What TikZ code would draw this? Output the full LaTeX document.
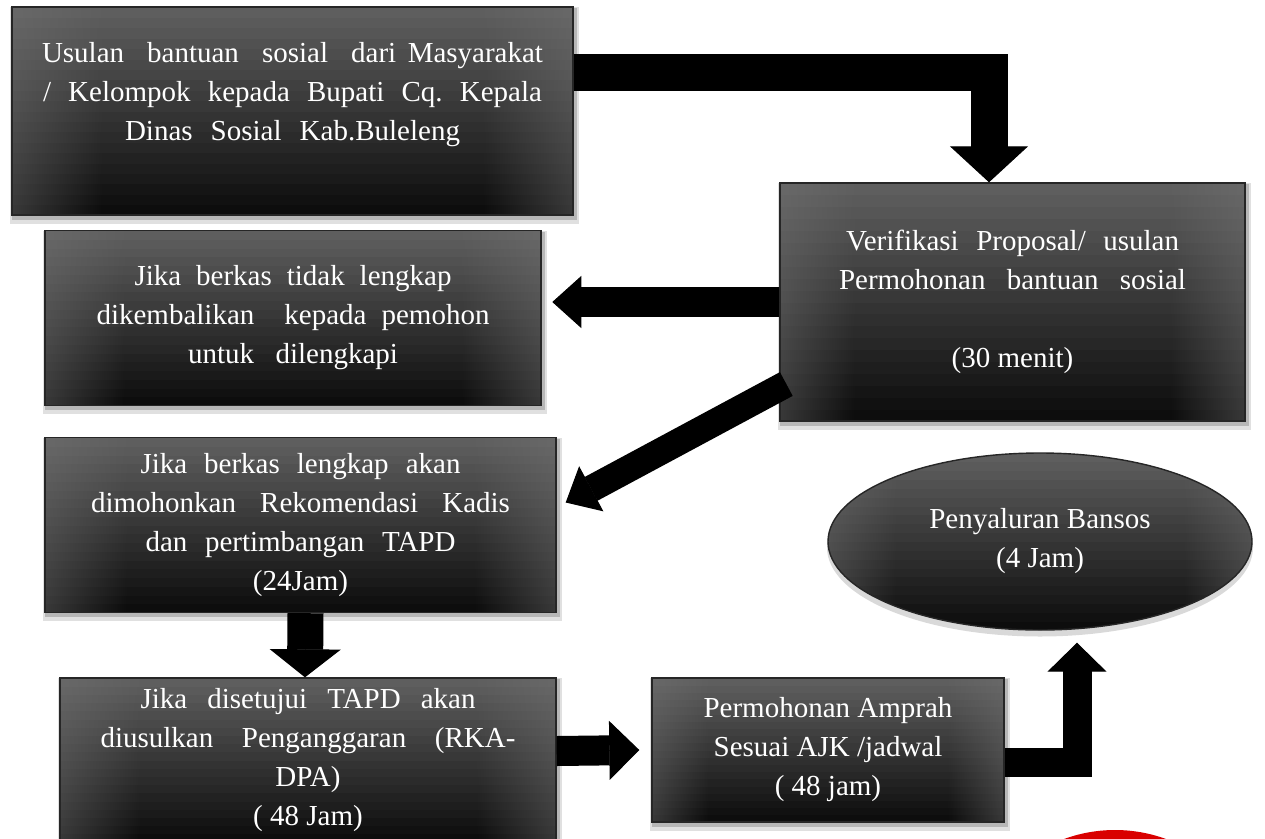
\documentclass[tikz,border=0pt]{standalone}
\usepackage{fontspec}
\setmainfont{Liberation Serif}
\usetikzlibrary{arrows.meta,shapes.geometric,calc}
\pgfdeclarelayer{bg}
\pgfsetlayers{bg,main}
\colorlet{ecol}{black!30}\colorlet{rcol}{black!25}\colorlet{mcol}{black!50}\colorlet{ccol}{black!95}
\pgfdeclarehorizontalshading[ecol,rcol,mcol,ccol]{band}{100bp}{color(0bp)=(ecol); color(13bp)=(mcol); color(33bp)=(ccol); color(67bp)=(ccol); color(87bp)=(mcol); color(100bp)=(rcol)}
\newcommand{\jl}[2]{\makebox[#1pt][s]{#2}}
\tikzset{
  gfill/.style={path picture={
    \foreach \i in {0,...,19}{
      \pgfmathsetmacro\tv{\i/19}
      \pgfmathsetmacro\ev{32+14*\tv}
      \pgfmathsetmacro\rv{27+14*\tv}
      \pgfmathsetmacro\mv{52+2*\tv}
      \pgfmathsetmacro\cv{95-32*\tv}
      \colorlet{ecol}{black!\ev}\colorlet{rcol}{black!\rv}\colorlet{mcol}{black!\mv}\colorlet{ccol}{black!\cv}
      \shade[shading=band] ($(path picture bounding box.south west)!\i/20!(path picture bounding box.north west)$) rectangle ($(path picture bounding box.south east)!\i/20+0.07!(path picture bounding box.north east)$);
    }}},
  gbox/.style={draw=black!85, line width=1.4pt, gfill, text=white, align=center, inner sep=0pt, font=\fontsize{29}{39}\selectfont\frenchspacing},
  rbox/.style={gbox, rectangle},
  ebox/.style={gbox, ellipse},
  blk/.style={draw=black, line cap=butt, line join=miter},
  bar/.style={preaction={draw=black, -, shorten >=#1}},
}
\begin{document}
\begin{tikzpicture}[x=1pt,y=-1pt]
\useasboundingbox (0,0) rectangle (1265,838);
\clip (0,0) rectangle (1265,838);
\begin{pgfonlayer}{bg}
\fill[white] (0,0) rectangle (1265,838);
\end{pgfonlayer}

\node[rbox, minimum width=561pt, minimum height=208pt] (b1) at (292.5,111)
  {\jl{501}{Usulan\ \ bantuan\ \ sosial\ \ dari Masyarakat}\\ \jl{499}{/ Kelompok kepada Bupati Cq. Kepala}\\ \jl{335}{Dinas Sosial Kab.Buleleng}\\ \mbox{}};
\node[rbox, minimum width=465pt, minimum height=238pt] (verif) at (1012.5,302)
  {\jl{333}{Verifikasi Proposal/ usulan}\\ \jl{347}{Permohonan bantuan sosial}\\ \mbox{}\\ (30 menit)};
\node[rbox, minimum width=496pt, minimum height=175pt] (tidak) at (293,318)
  {\jl{317}{Jika berkas tidak lengkap}\\ \jl{393}{dikembalikan\ \ kepada pemohon}\\ \jl{210}{untuk dilengkapi}};
\node[rbox, minimum width=511pt, minimum height=175pt] (lengkap) at (300.5,525)
  {\jl{320}{Jika berkas lengkap akan}\\ \jl{419}{dimohonkan Rekomendasi Kadis}\\ \jl{310}{dan pertimbangan TAPD}\\ (24Jam)};
\node[rbox, minimum width=496pt, minimum height=164pt] (setuju) at (308,760)
  {\jl{335}{Jika disetujui TAPD akan}\\ \jl{415}{diusulkan Penganggaran (RKA-}\\ DPA)\\ ( 48 Jam)};
\node[rbox, minimum width=352pt, minimum height=144pt] (amprah) at (828,750)
  {Permohonan Amprah\\ Sesuai AJK /jadwal\\ ( 48 jam)};
\node[ebox, minimum width=424pt, minimum height=177pt] (ell) at (1040,541.5)
  {Penyaluran Bansos\\ (4 Jam)};

\fill[red!85!black] (1115,978) circle (148);

\begin{pgfonlayer}{bg}
\foreach \n in {b1,verif,tidak,lengkap,setuju,amprah}{
  \fill[black,opacity=.12] ([shift={(-1pt,-8pt)}]\n.south west) rectangle ([shift={(5pt,-1pt)}]\n.north east);
  \fill[black,opacity=.18] ([shift={(1pt,-4pt)}]\n.south west) rectangle ([shift={(3pt,-2pt)}]\n.north east);
}
\fill[black,opacity=.15] ([yshift=-6pt]ell.center) ellipse (213 and 89);
\end{pgfonlayer}

\coordinate (t1) at ([xshift=-23.5pt]verif.north);
\coordinate (t2) at ([xshift=-227pt]verif.west);
\coordinate (s3) at ([shift={(7pt,-82pt)}]verif.west);
\coordinate (t3) at ([shift={(9pt,22.5pt)}]lengkap.east);
\coordinate (t6) at ([shift={(37pt,-12pt)}]ell.south);

\draw[blk, line width=37pt, bar=33pt, -{Triangle[length=36pt,width=78pt,line width=1pt]}] ([yshift=39pt]b1.east) -| (t1);
\draw[blk, line width=30pt, bar=26pt, -{Triangle[length=29pt,width=52pt,line width=1pt]}] (verif.west) -- (t2);
\draw[blk, line width=27pt, bar=26pt, -{Triangle[length=29pt,width=51pt,line width=1pt]}] (s3) -- (t3);
\draw[blk, line width=36pt, bar=25pt, -{Triangle[length=28pt,width=71pt,line width=1pt]}] ([xshift=5pt]lengkap.south) -- ([xshift=-3pt]setuju.north);
\draw[blk, line width=30pt, bar=27pt, -{Triangle[length=30pt,width=59pt,line width=1pt]}] ([yshift=9pt]setuju.east) -- ([xshift=-12pt]amprah.west);
\draw[blk, line width=29pt, bar=26pt, -{Triangle[length=29pt,width=59pt,line width=1pt]}] ([yshift=-12pt]amprah.east) -| (t6);
\end{tikzpicture}
\end{document}
